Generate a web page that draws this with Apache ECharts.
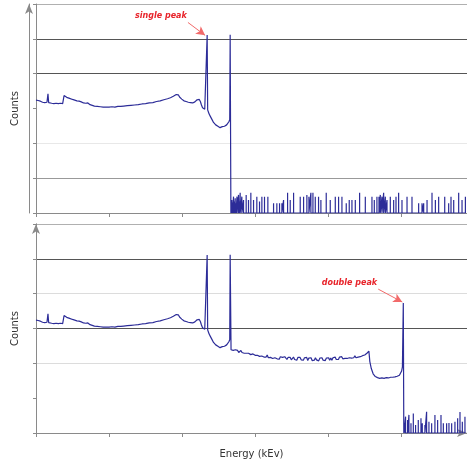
<!DOCTYPE html>
<html>
<head>
<meta charset="utf-8">
<script src="https://cdn.jsdelivr.net/npm/echarts@6/dist/echarts.min.js"></script>
<style>
html, body { margin: 0; padding: 0; background: #fff; }
#chart { width: 467px; height: 467px; }
</style>
</head>
<body>
<div id="chart"></div>
<script>
// spectrum shared by both panels, [energy, counts]
var baseCurve = [[0,3.24],[1.5,3.22],[3,3.23],[4.5,3.19],[6,3.21],[7.5,3.16],[9,3.18],[10.5,3.14],[12,3.17],[13.5,3.15],[15,3.18],[16.4,3.42],[17.3,3.17],[18.5,3.14],[20,3.17],[21.5,3.15],[23,3.16],[24.5,3.14],[26,3.17],[27.5,3.15],[29,3.16],[30.5,3.14],[32,3.16],[33.5,3.15],[35,3.17],[36.5,3.14],[37.6,3.16],[38.4,3.37],[40,3.34],[42,3.32],[44,3.3],[46,3.29],[48,3.27],[50,3.26],[53,3.24],[56,3.22],[59,3.21],[62,3.19],[65,3.16],[68,3.15],[70,3.13],[71,3.16],[72,3.12],[74,3.11],[77,3.09],[80,3.07],[84,3.06],[88,3.05],[92,3.04],[96,3.04],[100,3.04],[104,3.05],[108,3.04],[112,3.06],[116,3.06],[120,3.07],[125,3.08],[130,3.09],[135,3.1],[140,3.11],[145,3.13],[150,3.14],[155,3.16],[160,3.17],[165,3.2],[170,3.22],[175,3.25],[180,3.28],[182,3.3],[184,3.31],[186,3.33],[188,3.35],[190,3.38],[192,3.4],[193.5,3.43],[195,3.39],[196.5,3.33],[198,3.29],[199.5,3.27],[201,3.25],[202.5,3.22],[204,3.24],[205.5,3.2],[207,3.23],[208.5,3.18],[210,3.22],[211.5,3.17],[213,3.2],[214.5,3.16],[216,3.2],[217.5,3.19],[219,3.23],[220.5,3.25],[222,3.27],[223.5,3.26],[225,3.2],[226.5,3.1],[228,3.02],[229.5,3.0],[231,2.98],[232.5,3.0],[233.6,2.97],[234.3,5.11],[235,2.96],[236,2.9],[237,2.84],[238,2.8],[239,2.76],[240,2.74],[241,2.68],[242,2.64],[243,2.6],[244,2.59],[245,2.55],[246,2.53],[247,2.5],[248,2.48],[249,2.49],[250,2.46],[251,2.47],[252,2.45],[253,2.47],[254,2.46],[255,2.48],[256,2.47],[257,2.5],[258,2.49],[259,2.51],[260,2.52],[261,2.53],[262,2.55],[263,2.58],[264,2.62],[265.2,2.68],[265.8,5.12]];

// top panel: drops straight to the noise floor
var topTail = [[266.8,0]];
var topSpikes = [[268.1,0.37],[269.2,0.3],[270.4,0.47],[271.5,0.33],[272.7,0.42],[273.9,0.28],[275.1,0.47],[277.2,0.52],[278.3,0.33],[279.5,0.58],[281.8,0.47],[284.1,0.37],[287.7,0.52],[290.9,0.37],[294.1,0.58],[297.8,0.37],[302.3,0.47],[306,0.33],[309.2,0.47],[312.8,0.47],[317.4,0.47],[325.2,0.28],[329.7,0.28],[333.4,0.28],[336.6,0.28],[338.9,0.37],[344.4,0.58],[348,0.37],[352.6,0.58],[361.7,0.47],[366.3,0.47],[370.8,0.52],[373.6,0.47],[376.3,0.58],[379.1,0.58],[382.3,0.47],[386.8,0.47],[390,0.37],[397.3,0.58],[402.8,0.37],[409.7,0.47],[414.2,0.47],[418.8,0.47],[424.7,0.28],[428.8,0.37],[432.5,0.37],[437.1,0.37],[443,0.58],[450.8,0.47],[459.9,0.47],[463.1,0.37],[466.7,0.47],[469.5,0.47],[471.3,0.52],[473.6,0.47],[475.9,0.58],[478.2,0.47],[480.5,0.37],[485,0.47],[489.6,0.37],[492.8,0.47],[496.4,0.58],[501,0.37],[507.9,0.47],[514.7,0.47],[523.8,0.28],[528.4,0.28],[530.7,0.28],[535.3,0.37],[542.1,0.58],[546.7,0.37],[551.2,0.47],[559.5,0.47],[564.9,0.28],[568.1,0.47],[571.8,0.37],[578.6,0.58],[583.2,0.37],[587.8,0.47]];

// bottom panel: noisy plateau, second edge and double peak
var bottomTail = [[267,2.39],[268.5,2.34],[270,2.37],[271.5,2.34],[273,2.39],[274.5,2.34],[276,2.37],[277.5,2.31],[279,2.35],[280.5,2.37],[282,2.31],[283.5,2.35],[285,2.29],[286.5,2.33],[288,2.29],[289.5,2.34],[291,2.29],[292.5,2.32],[294,2.25],[295.5,2.3],[297,2.27],[298.5,2.3],[300,2.23],[301.5,2.27],[303,2.23],[304.5,2.27],[306,2.2],[307.5,2.25],[309,2.21],[310.5,2.25],[312,2.18],[313.5,2.23],[315,2.18],[316.5,2.24],[318,2.16],[319.5,2.2],[321,2.17],[322.5,2.21],[324,2.14],[325.5,2.19],[327,2.16],[328.5,2.21],[330,2.13],[331.5,2.17],[333,2.12],[334.5,2.19],[336,2.14],[337.5,2.17],[339,2.12],[340.5,2.19],[342,2.14],[343.5,2.11],[345,2.17],[346.5,2.12],[348,2.17],[349.5,2.1],[351,2.15],[352.5,2.18],[354,2.11],[355.5,2.16],[357,2.09],[358.5,2.17],[360,2.12],[361.5,2.17],[363,2.1],[364.5,2.14],[366,2.09],[367.5,2.16],[369,2.12],[370.5,2.17],[372,2.08],[373.5,2.15],[375,2.1],[376.5,2.16],[378,2.08],[379.5,2.13],[381,2.09],[382.5,2.16],[384,2.1],[385.5,2.14],[387,2.07],[388.5,2.15],[390,2.11],[391.5,2.16],[393,2.09],[394.5,2.14],[396,2.08],[397.5,2.15],[399,2.1],[400.5,2.16],[402,2.09],[403.5,2.15],[405,2.09],[406.5,2.16],[408,2.12],[409.5,2.18],[411,2.11],[412.5,2.16],[414,2.11],[415.5,2.18],[417,2.13],[418.5,2.19],[420,2.13],[421.5,2.18],[423,2.14],[424.5,2.19],[426,2.14],[427.5,2.19],[429,2.16],[430.5,2.21],[432,2.15],[433.5,2.2],[435,2.16],[436.5,2.22],[438,2.16],[439.5,2.21],[441,2.18],[442.5,2.23],[444,2.19],[445.5,2.24],[447,2.22],[448.5,2.26],[450,2.24],[451.5,2.28],[453,2.29],[454.5,2.32],[455.7,2.35],[457,2.05],[459,1.85],[461.5,1.7],[463,1.66],[464.5,1.62],[466,1.63],[467.5,1.59],[469,1.6],[470.5,1.57],[472,1.6],[473.5,1.58],[475,1.6],[476.5,1.57],[478,1.6],[479.5,1.59],[481,1.61],[482.5,1.58],[484,1.61],[485.5,1.6],[487,1.62],[488.5,1.6],[490,1.62],[491.5,1.61],[493,1.63],[494.5,1.63],[496,1.65],[497.5,1.66],[499,1.7],[500.5,1.78],[501.6,1.9],[502.8,3.73],[503.5,0]];
var bottomSpikes = [[504.1,0.28],[505.9,0.47],[508.7,0.37],[510.5,0.52],[513.3,0.28],[516.5,0.56],[519.6,0.23],[523.3,0.37],[527,0.42],[528.8,0.28],[532.4,0.23],[534.7,0.61],[537.9,0.32],[541.6,0.28],[546.1,0.52],[549.8,0.37],[554.4,0.52],[557.6,0.28],[562.1,0.28],[565.3,0.29],[569,0.28],[573.5,0.32],[577.2,0.42],[580.4,0.6],[583.6,0.32],[587.2,0.47]];

var singleLabel = ['single peak', 171, 5.66];
var singleArrow = [[208, 5.47], [231.5, 5.1]];
var doubleLabel = ['double peak', 429, 4.31];
var doubleArrow = [[468.5, 4.13], [501.4, 3.76]];

function withSpikes(head, spikes) {
  var out = head.slice();
  spikes.forEach(function (s) {
    out.push([s[0], 0], [s[0], s[1]], [s[0], 0]);
  });
  return out;
}

var topData = withSpikes(baseCurve.concat(topTail), topSpikes);
var bottomData = withSpikes(baseCurve.concat(bottomTail), bottomSpikes);

var font = 'DejaVu Sans';
var gray = '#8a8a8a';
var lineColor = '#2c2c98';
var arrowColor = '#f26a6a';
var noteColor = '#e8242b';

function xAxisFor(grid) {
  return {
    gridIndex: grid, type: 'value', min: 0, max: 590, interval: 100,
    axisLine: { lineStyle: { color: gray } },
    axisTick: { length: 4, lineStyle: { color: gray } },
    axisLabel: { show: false },
    splitLine: { show: false }
  };
}
function yAxisFor(grid, colors) {
  return {
    gridIndex: grid, type: 'value', min: 0, max: 6, interval: 1, position: 'left',
    axisLine: { show: true, lineStyle: { color: gray } },
    axisTick: { show: true, length: 3, lineStyle: { color: gray } },
    axisLabel: { show: false },
    splitLine: { show: true, lineStyle: { color: colors, width: 1 } }
  };
}
function arrowYAxis(grid) {
  return {
    gridIndex: grid, type: 'value', min: 0, max: 6, position: 'left', offset: 7,
    axisLine: { show: true, symbol: ['none', 'arrow'], symbolSize: [6, 10], lineStyle: { color: gray } },
    axisTick: { show: false }, axisLabel: { show: false }, splitLine: { show: false },
    name: 'Counts', nameLocation: 'middle', nameGap: 9,
    nameTextStyle: { fontFamily: font, fontSize: 10, color: '#333' }
  };
}
function note(label, arrow) {
  return {
    markLine: {
      silent: true, symbol: ['none', 'arrow'], symbolSize: [7, 9],
      label: { show: false },
      lineStyle: { color: arrowColor, width: 1, type: 'solid' },
      data: [[{ coord: arrow[0] }, { coord: arrow[1] }]]
    },
    markPoint: {
      silent: true, symbol: 'circle', symbolSize: 0,
      label: {
        show: true, position: 'inside', formatter: label[0],
        fontFamily: font, fontSize: 8, fontStyle: 'italic', fontWeight: 'bold', color: noteColor
      },
      data: [{ coord: [label[1], label[2]] }]
    }
  };
}

var chart = echarts.init(document.getElementById('chart'));
var topNote = note(singleLabel, singleArrow);
var bottomNote = note(doubleLabel, doubleArrow);

chart.setOption({
  animation: false,
  backgroundColor: '#fff',
  grid: [
    { left: 36, right: 0, top: 4, height: 209 },
    { left: 36, right: 0, top: 224, height: 209 }
  ],
  xAxis: [
    xAxisFor(0),
    xAxisFor(1),
    {
      gridIndex: 1, type: 'value', min: 0, max: 590, position: 'bottom', offset: 11,
      axisLine: { show: true, symbol: ['none', 'arrow'], symbolSize: [6, 10], lineStyle: { color: gray } },
      axisTick: { show: false }, axisLabel: { show: false }, splitLine: { show: false },
      name: 'Energy (kEv)', nameLocation: 'middle', nameGap: 5,
      nameTextStyle: { fontFamily: font, fontSize: 10, color: '#333' }
    }
  ],
  yAxis: [
    yAxisFor(0, ['transparent', '#999', '#e8e8e8', 'transparent', '#555', '#555', '#b0b0b0']),
    arrowYAxis(0),
    yAxisFor(1, ['transparent', 'transparent', '#dcdcdc', '#555', '#dcdcdc', '#555', '#b0b0b0']),
    arrowYAxis(1)
  ],
  series: [
    {
      type: 'line', xAxisIndex: 0, yAxisIndex: 0, data: topData,
      showSymbol: false, sampling: null,
      lineStyle: { color: lineColor, width: 1.2 },
      markLine: topNote.markLine, markPoint: topNote.markPoint
    },
    {
      type: 'line', xAxisIndex: 1, yAxisIndex: 2, data: bottomData,
      showSymbol: false, sampling: null,
      lineStyle: { color: lineColor, width: 1.2 },
      markLine: bottomNote.markLine, markPoint: bottomNote.markPoint
    }
  ]
});
</script>
</body>
</html>
